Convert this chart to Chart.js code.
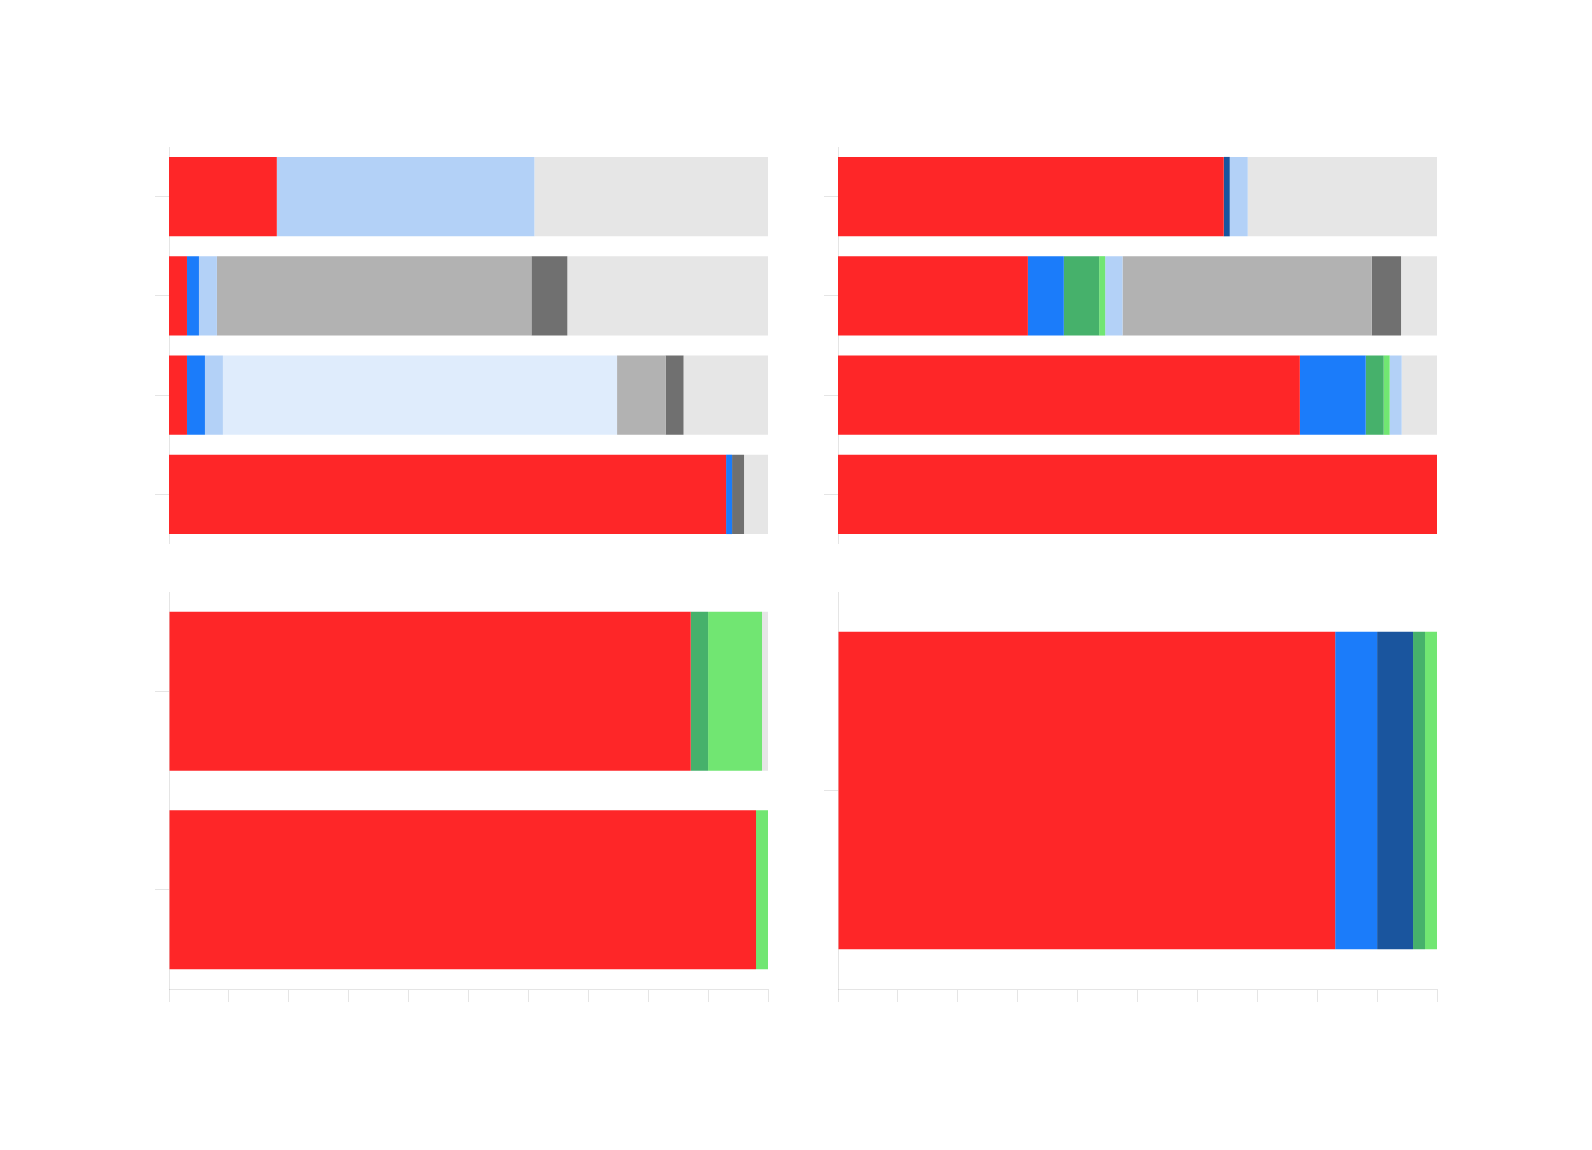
<!DOCTYPE html>
<html>
<head>
<meta charset="utf-8">
<script src="https://cdn.jsdelivr.net/npm/chart.js@4.4.1/dist/chart.umd.min.js"></script>
<style>
    body { margin: 0; background: #ffffff; }
    canvas { position: absolute; }
</style>
</head>
<body>
<canvas id="topLeft" width="616" height="397" style="left:155px;top:147px"></canvas>
<canvas id="topRight" width="616" height="397" style="left:824px;top:147px"></canvas>
<canvas id="bottomLeft" width="616" height="410" style="left:155px;top:592px"></canvas>
<canvas id="bottomRight" width="616" height="410" style="left:824px;top:592px"></canvas>
<script>
// series order is the stacking order, left to right
const seriesNames = ["red", "blue", "darkBlue", "green", "lightGreen", "lightBlue", "paleBlue", "grey", "darkGrey", "lightGrey"];
const seriesColors = ["#fe2628", "#1b7cfa", "#1a559e", "#46b16b", "#71e672", "#b3d1f7", "#dfecfc", "#b2b2b2", "#707070", "#e6e6e6"];

// one inner array per series, one value per bar (top to bottom)
const topLeftLabels = ["1", "2", "3", "4"];
const topLeftValues = [
    [18, 3, 3, 93],
    [0, 2, 3, 1],
    [0, 0, 0, 0],
    [0, 0, 0, 0],
    [0, 0, 0, 0],
    [43, 3, 3, 0],
    [0, 0, 65.8, 0],
    [0, 52.5, 8.1, 0],
    [0, 6, 3, 2],
    [39, 33.5, 14.1, 4]
];

const topRightLabels = ["1", "2", "3", "4"];
const topRightValues = [
    [64.4, 31.7, 77.1, 100],
    [0, 6, 11, 0],
    [1, 0, 0, 0],
    [0, 5.9, 3, 0],
    [0, 1, 1, 0],
    [3, 2.9, 2, 0],
    [0, 0, 0, 0],
    [0, 41.6, 0, 0],
    [0, 4.9, 0, 0],
    [31.6, 6, 5.9, 0]
];

const bottomLeftLabels = ["1", "2"];
const bottomLeftValues = [
    [87.1, 98],
    [0, 0],
    [0, 0],
    [2.9, 0],
    [9, 2],
    [0, 0],
    [0, 0],
    [0, 0],
    [0, 0],
    [1, 0]
];

const bottomRightLabels = ["1"];
const bottomRightValues = [
    [83],
    [7],
    [6],
    [2],
    [2],
    [0],
    [0],
    [0],
    [0],
    [0]
];

function makeChart(id, labels, values, showXAxis) {
    const datasets = seriesNames.map((name, i) => ({
        label: name,
        data: values[i],
        backgroundColor: seriesColors[i],
        borderWidth: 0,
        barPercentage: 1,
        categoryPercentage: 0.8
    }));
    new Chart(document.getElementById(id), {
        type: "bar",
        data: { labels: labels, datasets: datasets },
        options: {
            indexAxis: "y",
            responsive: false,
            animation: false,
            layout: { padding: { left: 0, top: 0, bottom: 0, right: 3 } },
            plugins: { legend: { display: false }, tooltip: { enabled: false } },
            scales: {
                x: {
                    display: showXAxis,
                    stacked: true,
                    min: 0,
                    max: 100,
                    ticks: { display: false, stepSize: 10 },
                    grid: { drawOnChartArea: false, tickLength: 13 }
                },
                y: {
                    stacked: true,
                    ticks: { display: false },
                    grid: { drawOnChartArea: false, offset: false, tickLength: 14 }
                }
            }
        }
    });
}

makeChart("topLeft", topLeftLabels, topLeftValues, false);
makeChart("topRight", topRightLabels, topRightValues, false);
makeChart("bottomLeft", bottomLeftLabels, bottomLeftValues, true);
makeChart("bottomRight", bottomRightLabels, bottomRightValues, true);
</script>
</body>
</html>
